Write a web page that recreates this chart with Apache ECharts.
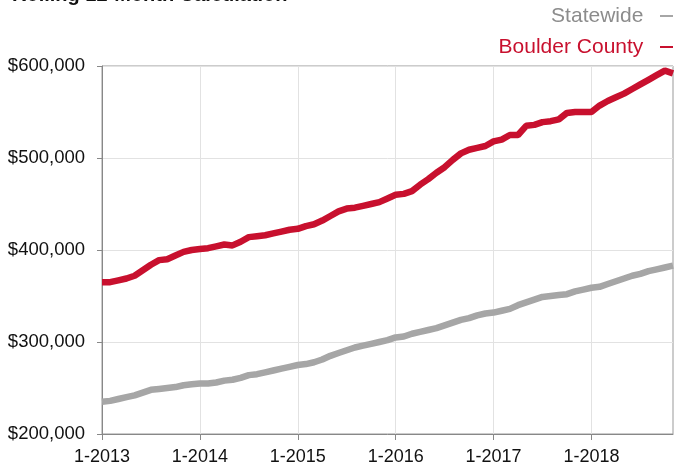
<!DOCTYPE html>
<html>
<head>
<meta charset="utf-8">
<style>
  html, body { margin: 0; padding: 0; background: #fff; }
  #chart { width: 674px; height: 466px; }
</style>
<script src="https://cdn.jsdelivr.net/npm/echarts@6/dist/echarts.min.js"></script>
</head>
<body>
<div id="chart"></div>
<script>
// Monthly periods, January 2013 through November 2018
const years = [2013, 2014, 2015, 2016, 2017, 2018];
const months = [];
years.forEach(function (y) {
  for (let m = 1; m <= 12; m++) {
    if (y === 2018 && m > 11) break;
    months.push(m + '-' + y);
  }
});

// Rolling 12-month median sales price, in dollars
const statewide = [
  235000, 236000, 238000, 240000, 242000, 245000, 248000, 249000, 250000, 251000, 253000, 254000,
  255000, 255000, 256000, 258000, 259000, 261000, 264000, 265000, 267000, 269000, 271000, 273000,
  275000, 276000, 278000, 281000, 285000, 288000, 291000, 294000, 296000, 298000, 300000, 302000,
  305000, 306000, 309000, 311000, 313000, 315000, 318000, 321000, 324000, 326000, 329000, 331000,
  332000, 334000, 336000, 340000, 343000, 346000, 349000, 350000, 351000, 352000, 355000, 357000,
  359000, 360000, 363000, 366000, 369000, 372000, 374000, 377000, 379000, 381000, 383000
];
const boulderCounty = [
  365000, 365000, 367000, 369000, 372000, 378000, 384000, 389000, 390000, 394000, 398000, 400000,
  401000, 402000, 404000, 406000, 405000, 409000, 414000, 415000, 416000, 418000, 420000, 422000,
  423000, 426000, 428000, 432000, 437000, 442000, 445000, 446000, 448000, 450000, 452000, 456000,
  460000, 461000, 464000, 471000, 477000, 484000, 490000, 498000, 505000, 509000, 511000, 513000,
  518000, 520000, 525000, 525000, 535000, 536000, 539000, 540000, 542000, 549000, 550000, 550000,
  550000, 557000, 562000, 566000, 570000, 575000, 580000, 585000, 590000, 595000, 592000
];

const FONT = '"Liberation Sans", Arial, Helvetica, sans-serif';
const RED = '#c8102e';
const GRAY = '#a6a6a6';

const chart = echarts.init(document.getElementById('chart'));
chart.setOption({
  animation: false,
  textStyle: { fontFamily: FONT },
  title: {
    text: 'Rolling 12-Month Calculation',
    left: 12,
    top: -15,
    padding: 0,
    textStyle: { fontFamily: FONT, fontSize: 20, fontWeight: 'bold', color: '#111' }
  },
  legend: {
    orient: 'vertical',
    right: 1,
    top: 5,
    padding: 0,
    align: 'right',
    itemGap: 9,
    itemWidth: 13,
    itemHeight: 2,
    icon: 'rect',
    formatter: '{name}  ',
    data: [
      { name: 'Statewide', textStyle: { color: '#8c8c8c' } },
      { name: 'Boulder County', textStyle: { color: RED } }
    ],
    textStyle: { fontFamily: FONT, fontSize: 21, lineHeight: 22 }
  },
  grid: {
    left: 102,
    right: 1,
    top: 66,
    bottom: 30,
    show: true,
    borderColor: '#999',
    borderWidth: 1,
    backgroundColor: 'transparent'
  },
  xAxis: {
    type: 'category',
    data: months,
    boundaryGap: false,
    axisLine: { lineStyle: { color: '#888', width: 1 } },
    axisTick: { show: true, interval: 11, length: 6, lineStyle: { color: '#888' } },
    axisLabel: { interval: 11, margin: 14, fontSize: 18, color: '#111', fontFamily: FONT },
    splitLine: { show: true, interval: 11, lineStyle: { color: '#e2e2e2', width: 1 } }
  },
  yAxis: {
    type: 'value',
    min: 200000,
    max: 600000,
    interval: 100000,
    axisLine: { show: true, lineStyle: { color: '#888', width: 1 } },
    axisTick: { show: true, length: 5, lineStyle: { color: '#888' } },
    axisLabel: {
      margin: 17,
      fontSize: 18.5,
      color: '#111',
      fontFamily: FONT,
      formatter: function (v) { return '$' + v.toLocaleString('en-US'); }
    },
    splitLine: { show: true, lineStyle: { color: '#e2e2e2', width: 1 } }
  },
  series: [
    {
      name: 'Statewide',
      type: 'line',
      data: statewide,
      showSymbol: false,
      lineStyle: { color: GRAY, width: 6.5 },
      itemStyle: { color: GRAY }
    },
    {
      name: 'Boulder County',
      type: 'line',
      data: boulderCounty,
      showSymbol: false,
      lineStyle: { color: RED, width: 6.5 },
      itemStyle: { color: RED }
    }
  ]
});
</script>
</body>
</html>
